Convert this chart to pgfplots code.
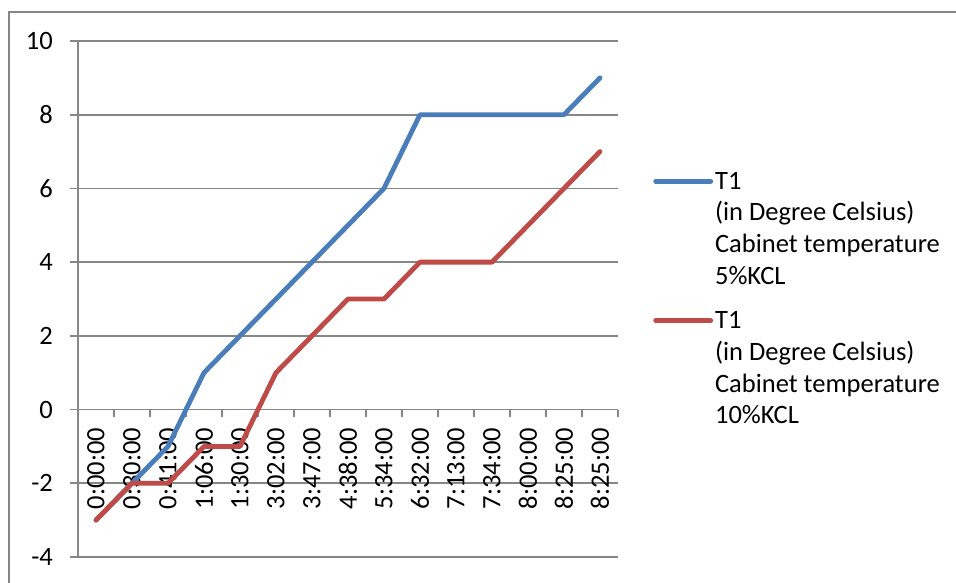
\documentclass[border=0pt]{standalone}
\usepackage{pgfplots}
\pgfplotsset{compat=1.18}
\usepackage{fontspec}
\setmainfont{Carlito}
\newcommand\cf{\fontsize{26.5pt}{31.7pt}\selectfont}
\definecolor{xlblue}{RGB}{74,126,187}
\definecolor{xlred}{RGB}{190,75,72}
\definecolor{xlgray}{RGB}{134,134,134}
\begin{document}
\begin{tikzpicture}
\useasboundingbox (0,0) rectangle (956pt,583pt);
\fill[white] (0,0) rectangle (956pt,583pt);
\draw[xlgray, line width=1.5pt] (9pt,-10pt) -- (9pt,571pt) -- (970pt,571pt);
\begin{axis}[
  at={(78pt,26pt)}, anchor=south west,
  scale only axis, width=540pt, height=516pt,
  xmin=-0.5, xmax=14.5, ymin=-4, ymax=10,
  axis x line*=middle, axis y line*=left,
  axis line style={xlgray, line width=1.6pt},
  xtick={0,...,14},
  xticklabels={0:00:00,0:30:00,0:41:00,1:06:00,1:30:00,3:02:00,3:47:00,4:38:00,5:34:00,6:32:00,7:13:00,7:34:00,8:00:00,8:25:00,8:25:00},
  minor xtick={-0.5,0.5,...,14.5},
  major x tick style={draw=none},
  minor x tick style={xlgray, line width=1.6pt},
  minor tick length=7pt,
  major tick length=8pt,
  tick align=outside,
  ytick={-4,-2,...,10},
  yticklabels={-4,-2,0,2,4,6,8,10},
  y tick style={xlgray, line width=1.6pt},
  ymajorgrids,
  grid style={xlgray, line width=1.6pt},
  tick label style={font=\cf},
  xticklabel style={rotate=90, anchor=east, inner sep=0pt, xshift=-10pt},
  yticklabel style={inner sep=0pt, anchor=east, xshift=-17pt},
  clip=false,
  legend style={at={(1.065,0.760)}, anchor=north west, draw=none, fill=none, inner sep=0pt, row sep=111.7pt, font=\cf, cells={anchor=base west}},
  legend image code/.code={\draw[#1, line cap=round] (0pt,8pt) -- (55pt,8pt);},
]
\addplot[xlblue, line width=4.8pt, line cap=round, line join=round] coordinates {
(0,-3) (1,-2) (2,-1) (3,1) (4,2) (5,3) (6,4) (7,5) (8,6) (9,8) (10,8) (11,8) (12,8) (13,8) (14,9)};
\addlegendentry{\begin{tabular}[t]{@{}l@{}}T1\\(in Degree Celsius)\\Cabinet temperature\\5\%KCL\end{tabular}}
\addplot[xlred, line width=4.8pt, line cap=round, line join=round] coordinates {
(0,-3) (1,-2) (2,-2) (3,-1) (4,-1) (5,1) (6,2) (7,3) (8,3) (9,4) (10,4) (11,4) (12,5) (13,6) (14,7)};
\addlegendentry{\begin{tabular}[t]{@{}l@{}}T1\\(in Degree Celsius)\\Cabinet temperature\\10\%KCL\end{tabular}}
\end{axis}
\end{tikzpicture}
\end{document}
